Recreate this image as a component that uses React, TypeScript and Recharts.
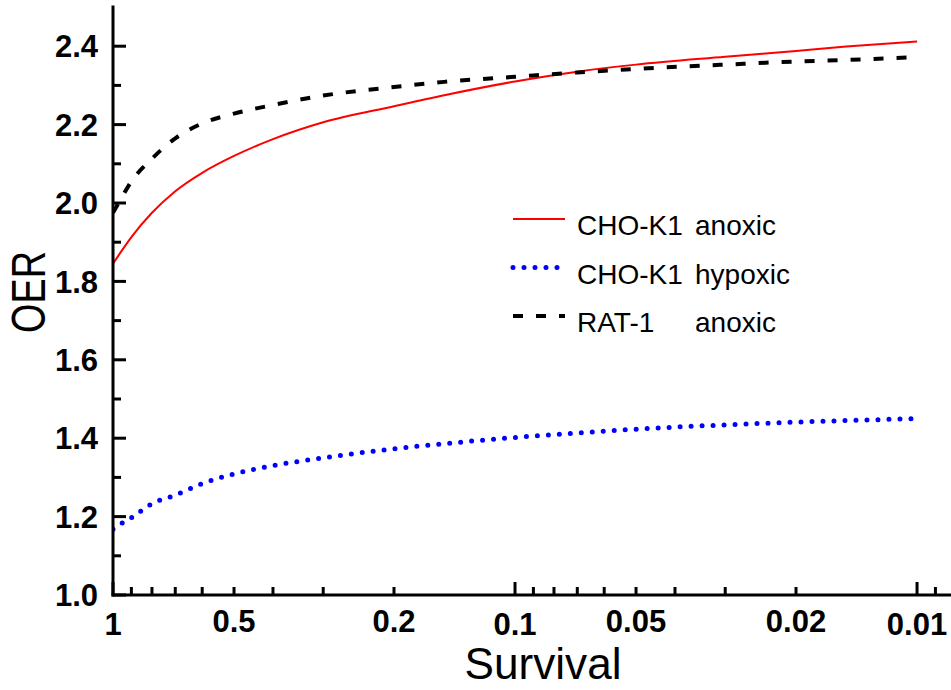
import { LineChart, Line, XAxis, YAxis, Legend } from "recharts";

// survival fraction (x, log scale, reversed) and OER values per series
const survival = [1, 0.95, 0.9, 0.8, 0.7, 0.6, 0.5, 0.4, 0.3, 0.2, 0.15, 0.1, 0.07, 0.05, 0.03, 0.02, 0.015, 0.01];
const choAnoxic = [1.845, 1.879, 1.913, 1.975, 2.03, 2.077, 2.12, 2.163, 2.206, 2.247, 2.275, 2.31, 2.335, 2.353, 2.373, 2.388, 2.399, 2.412];
const choHypoxic = [1.168, 1.183, 1.197, 1.233, 1.255, 1.284, 1.309, 1.33, 1.35, 1.373, 1.386, 1.402, 1.413, 1.423, 1.434, 1.441, 1.445, 1.45];
const ratAnoxic = [1.975, 2.015, 2.055, 2.113, 2.165, 2.203, 2.228, 2.25, 2.274, 2.296, 2.309, 2.322, 2.333, 2.342, 2.353, 2.361, 2.365, 2.372];

const xMajorTicks = [1, 0.1, 0.01];
const xMinorTicks = [0.9, 0.8, 0.7, 0.6, 0.5, 0.4, 0.3, 0.2, 0.09, 0.08, 0.07, 0.06, 0.05, 0.04, 0.03, 0.02, 0.009];
const xLabelValues = [1, 0.5, 0.2, 0.1, 0.05, 0.02, 0.01];
const xLabelText = ["1", "0.5", "0.2", "0.1", "0.05", "0.02", "0.01"];

const yTicks = [1.0, 1.1, 1.2, 1.3, 1.4, 1.5, 1.6, 1.7, 1.8, 1.9, 2.0, 2.1, 2.2, 2.3, 2.4];
const yLabelValues = [1.0, 1.2, 1.4, 1.6, 1.8, 2.0, 2.2, 2.4];

const legendNames = ["CHO-K1", "CHO-K1", "RAT-1"];
const legendConditions = ["anoxic", "hypoxic", "anoxic"];

const rows = survival.map((s, i) => ({
  s,
  choAnoxic: choAnoxic[i],
  choHypoxic: choHypoxic[i],
  ratAnoxic: ratAnoxic[i],
}));

const FONT = "'Liberation Sans', Arial, sans-serif";
const axisStyle = { stroke: "#000", strokeWidth: 3, strokeLinecap: "square" as const };
const xTicks = [...xMajorTicks, ...xMinorTicks];

function BottomTick(p: any) {
  const v = p.payload.value;
  const major = xMajorTicks.includes(v);
  const idx = xLabelValues.indexOf(v);
  return (
    <g>
      <line x1={p.x} x2={p.x} y1={p.y} y2={p.y - (major ? 13 : 8)} stroke="#000" strokeWidth={3} />
      {idx >= 0 && (
        <text
          x={p.x}
          y={p.y + (major ? 40 : 37)}
          textAnchor="middle"
          fontFamily={FONT}
          fontWeight="bold"
          fontSize={31}
          fill="#000"
        >
          {xLabelText[idx]}
        </text>
      )}
    </g>
  );
}

function TopTick(p: any) {
  const major = xMajorTicks.includes(p.payload.value);
  return <line x1={p.x} x2={p.x} y1={p.y} y2={p.y + (major ? 13 : 8)} stroke="#000" strokeWidth={3} />;
}

function LeftTick(p: any) {
  const v = p.payload.value;
  const major = yLabelValues.includes(v);
  return (
    <g>
      <line x1={p.x} x2={p.x + (major ? 13 : 8)} y1={p.y} y2={p.y} stroke="#000" strokeWidth={3} />
      {major && (
        <text
          x={p.x - 15}
          y={p.y}
          dy="0.36em"
          textAnchor="end"
          fontFamily={FONT}
          fontWeight="bold"
          fontSize={31}
          fill="#000"
        >
          {v.toFixed(1)}
        </text>
      )}
    </g>
  );
}

function RightTick(p: any) {
  const major = yLabelValues.includes(p.payload.value);
  return <line x1={p.x} x2={p.x - (major ? 13 : 8)} y1={p.y} y2={p.y} stroke="#000" strokeWidth={3} />;
}

const seriesStyle = [
  { stroke: "#ff0000", strokeWidth: 2, dash: undefined as string | undefined, cap: "butt" as const },
  { stroke: "#0000ff", strokeWidth: 5, dash: "0 11", cap: "round" as const },
  { stroke: "#000000", strokeWidth: 4, dash: "10 13", cap: "butt" as const },
];

function renderLegend() {
  return (
    <svg width={330} height={150} style={{ display: "block" }}>
      {legendNames.map((name, i) => {
        const st = seriesStyle[i];
        const ly = 24 + i * 48.5;
        return (
          <g key={i}>
            <line
              x1={13}
              x2={i === 1 ? 58 : 65}
              y1={ly}
              y2={ly}
              stroke={st.stroke}
              strokeWidth={st.strokeWidth}
              strokeDasharray={st.dash}
              strokeLinecap={st.cap}
            />
            <text x={77} y={ly + 16} fontFamily={FONT} fontSize={28} fill="#000">
              {name}
            </text>
            <text x={195} y={ly + 16} fontFamily={FONT} fontSize={28} fill="#000">
              {legendConditions[i]}
            </text>
          </g>
        );
      })}
    </svg>
  );
}

export default function App() {
  return (
    <div style={{ position: "absolute", left: 0, top: 0, width: 951, height: 690, overflow: "hidden", background: "#fff" }}>
      <LineChart width={1000} height={690} data={rows} margin={{ top: 7, right: 44, bottom: 0, left: 0 }}>
        <XAxis
          xAxisId="b"
          dataKey="s"
          type="number"
          scale="log"
          domain={[0.008, 1]}
          reversed
          allowDataOverflow
          ticks={xTicks}
          interval={0}
          height={95}
          tickSize={0}
          tickMargin={0}
          tickLine={false}
          axisLine={axisStyle}
          tick={BottomTick}
        />
        <XAxis
          xAxisId="t"
          orientation="top"
          dataKey="s"
          type="number"
          scale="log"
          domain={[0.008, 1]}
          reversed
          allowDataOverflow
          ticks={xTicks}
          interval={0}
          height={0}
          tickSize={0}
          tickMargin={0}
          tickLine={false}
          axisLine={axisStyle}
          tick={TopTick}
        />
        <YAxis
          yAxisId="l"
          type="number"
          domain={[1, 2.5]}
          allowDataOverflow
          ticks={yTicks}
          interval={0}
          width={113}
          tickSize={0}
          tickMargin={0}
          tickLine={false}
          axisLine={axisStyle}
          tick={LeftTick}
        />
        <YAxis
          yAxisId="r"
          orientation="right"
          type="number"
          domain={[1, 2.5]}
          allowDataOverflow
          ticks={yTicks}
          interval={0}
          width={0}
          tickSize={0}
          tickMargin={0}
          tickLine={false}
          axisLine={axisStyle}
          tick={RightTick}
        />
        <Line
          xAxisId="b"
          yAxisId="l"
          type="monotone"
          dataKey="choAnoxic"
          name="CHO-K1 anoxic"
          stroke={seriesStyle[0].stroke}
          strokeWidth={seriesStyle[0].strokeWidth}
          dot={false}
          activeDot={false}
          isAnimationActive={false}
        />
        <Line
          xAxisId="b"
          yAxisId="l"
          type="monotone"
          dataKey="choHypoxic"
          name="CHO-K1 hypoxic"
          stroke={seriesStyle[1].stroke}
          strokeWidth={seriesStyle[1].strokeWidth}
          strokeDasharray={seriesStyle[1].dash}
          strokeLinecap="round"
          dot={false}
          activeDot={false}
          isAnimationActive={false}
        />
        <Line
          xAxisId="b"
          yAxisId="l"
          type="monotone"
          dataKey="ratAnoxic"
          name="RAT-1 anoxic"
          stroke={seriesStyle[2].stroke}
          strokeWidth={seriesStyle[2].strokeWidth}
          strokeDasharray={seriesStyle[2].dash}
          dot={false}
          activeDot={false}
          isAnimationActive={false}
        />
        <Legend
          layout="horizontal"
          verticalAlign="middle"
          align="center"
          wrapperStyle={{ left: 500, top: 195, width: 330, height: 150 }}
          content={renderLegend}
        />
      </LineChart>
      <svg width={951} height={690} style={{ position: "absolute", left: 0, top: 0, pointerEvents: "none" }}>
        <text
          x={45}
          y={292}
          transform="rotate(-90 45 292)"
          textAnchor="middle"
          fontFamily={FONT}
          fontSize={48}
          textLength={82}
          lengthAdjust="spacingAndGlyphs"
          fill="#000"
        >
          OER
        </text>
        <text
          x={543}
          y={679}
          textAnchor="middle"
          fontFamily={FONT}
          fontSize={44}
          textLength={157}
          lengthAdjust="spacingAndGlyphs"
          fill="#000"
        >
          Survival
        </text>
      </svg>
    </div>
  );
}
